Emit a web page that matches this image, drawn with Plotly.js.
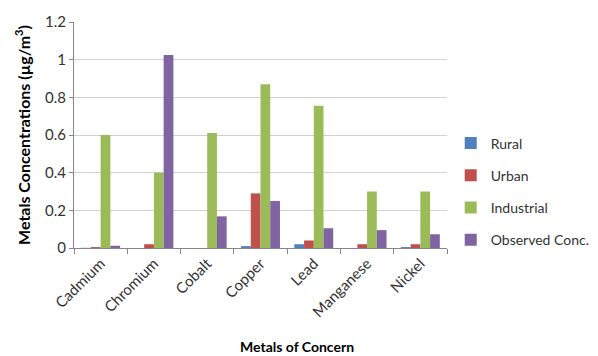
<!DOCTYPE html>
<html><head><meta charset="utf-8">
<script src="https://cdn.plot.ly/plotly-3.0.1.min.js"></script>
<style>body{margin:0;background:#fff}#c{width:598px;height:356px}</style>
</head><body><div id="c"></div>
<script>
const categories = ["Cadmium","Chromium","Cobalt","Copper","Lead","Manganese","Nickel"];
const rural = [0.001, 0.0, 0.0, 0.01, 0.02, 0.0, 0.005];
const urban = [0.005, 0.02, 0.0, 0.29, 0.04, 0.02, 0.02];
const industrial = [0.6, 0.4, 0.61, 0.87, 0.755, 0.3, 0.3];
const observed = [0.012, 1.025, 0.168, 0.25, 0.105, 0.095, 0.073];
const seriesNames = ["Rural","Urban","Industrial","Observed Conc."];
const colors = ["#4F81BD","#C0504D","#9BBB59","#8064A2"];
const yTicks = [0,0.2,0.4,0.6,0.8,1,1.2];
const yTickText = ["0","0.2","0.4","0.6","0.8","1","1.2"];
const xTitle = "Metals of Concern";
const yTitle = "Metals Concentrations (µg/m<sup>3</sup>)";

const data = [rural, urban, industrial, observed].map((v,i)=>({
  type:"bar", x:categories, y:v, name:seriesNames[i], legendgroup:"g"+i,
  marker:{color:colors[i], line:{width:0}}
}));
const font = "Lato, Open Sans, sans-serif";
const layout = {
  width:598, height:356,
  margin:{l:74, r:151, t:22, b:108, autoexpand:false},
  paper_bgcolor:"#fff", plot_bgcolor:"#fff",
  barmode:"group", bargap:0.27, bargroupgap:0,
  font:{family:font, size:14, color:"#404040"},
  xaxis:{
    tickangle:-45, showline:true, linecolor:"#868686", linewidth:1,
    ticks:"outside", ticklen:5, tickcolor:"#868686", tickson:"boundaries",
    tickfont:{size:15, color:"#333"}, showgrid:false, automargin:false
  },
  yaxis:{
    range:[0,1.2], tickvals:yTicks, ticktext:yTickText, automargin:false,
    showline:true, linecolor:"#868686", linewidth:1,
    ticks:"outside", ticklen:4, tickcolor:"#868686",
    gridcolor:"#d0d0d0", gridwidth:1, zeroline:false,
    tickfont:{size:15, color:"#333"},
    title:{text:"<b>"+yTitle+"</b>", font:{size:16, color:"#000"}, standoff:10}
  },
  annotations:[{
    text:"<b>"+xTitle+"</b>", xref:"paper", yref:"paper",
    x:0.598, y:-0.438, xanchor:"center", yanchor:"middle", showarrow:false,
    font:{size:14, color:"#000"}
  }],
  legend:{x:1.01, xanchor:"left", y:0.25, yanchor:"middle",
    font:{size:14, color:"#333"}, traceorder:"grouped", tracegroupgap:11,
    itemwidth:30, bgcolor:"rgba(0,0,0,0)"},
  showlegend:true
};
Plotly.newPlot("c", data, layout, {displayModeBar:false, staticPlot:true});
</script></body></html>
